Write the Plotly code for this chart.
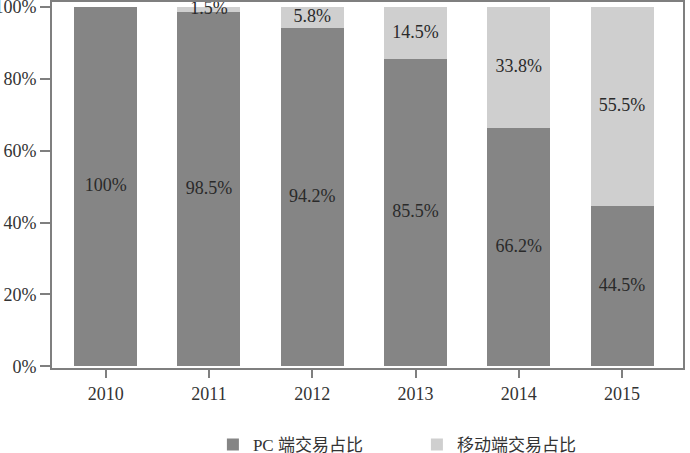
import plotly.graph_objects as go

years = ["2010", "2011", "2012", "2013", "2014", "2015"]
pc_share = [100, 98.5, 94.2, 85.5, 66.2, 44.5]
mobile_share = [0, 1.5, 5.8, 14.5, 33.8, 55.5]
pc_labels = ["100%", "98.5%", "94.2%", "85.5%", "66.2%", "44.5%"]
mobile_labels = ["", "1.5%", "5.8%", "14.5%", "33.8%", "55.5%"]
y_ticks = [0, 20, 40, 60, 80, 100]
y_tick_labels = ["0%", "20%", "40%", "60%", "80%", "100%"]

xs = list(range(len(years)))
serif = "Liberation Serif, Times New Roman, serif"

fig = go.Figure()
fig.add_trace(go.Bar(x=xs, y=pc_share, name="PC 端交易占比", marker_color="#858585",
                     width=0.61, marker_line_width=0))
fig.add_trace(go.Bar(x=xs, y=mobile_share, name="移动端交易占比", marker_color="#cfcfcf",
                     width=0.61, marker_line_width=0))

pc_mid = [v / 2 for v in pc_share]
mob_mid = [p + m / 2 for p, m in zip(pc_share, mobile_share)]
fig.add_trace(go.Scatter(x=xs, y=pc_mid, mode="text", text=pc_labels, showlegend=False,
                         textfont=dict(family=serif, size=18, color="#2a2a2a"), hoverinfo="skip",
                         cliponaxis=False))
fig.add_trace(go.Scatter(x=xs, y=mob_mid, mode="text", text=mobile_labels, showlegend=False,
                         textfont=dict(family=serif, size=18, color="#2a2a2a"), hoverinfo="skip",
                         cliponaxis=False))

fig.update_layout(
    barmode="stack",
    width=690, height=453,
    margin=dict(l=52, r=7, t=2, b=85, autoexpand=False),
    plot_bgcolor="white", paper_bgcolor="white",
    font=dict(family=serif, size=18, color="#333333"),
    legend=dict(orientation="h", x=0.255, xanchor="left", y=-0.21, yanchor="middle",
                font=dict(family="Liberation Serif, Noto Sans CJK SC, serif", size=17,
                          color="#333333"),
                itemwidth=30, traceorder="normal", entrywidth=159),
)
fig.update_xaxes(range=[-0.52, 5.59], tickvals=xs, ticktext=years, showline=True,
                 linecolor="#7f7f7f", linewidth=2, mirror=True, ticks="outside", ticklen=8,
                 tickcolor="#7f7f7f", tickwidth=2, showgrid=False, zeroline=False,
                 automargin=False, ticklabeloverflow="allow",
                 tickfont=dict(family=serif, size=18, color="#333333"))
fig.update_yaxes(range=[-0.5, 101.4], tickvals=y_ticks, ticktext=y_tick_labels, showline=True,
                 linecolor="#7f7f7f", linewidth=2, mirror=True, ticks="outside", ticklen=10,
                 tickcolor="#7f7f7f", tickwidth=2, showgrid=False, zeroline=False,
                 automargin=False, ticklabeloverflow="allow",
                 tickfont=dict(family=serif, size=18, color="#333333"))

fig.write_html("out.html", config={"displayModeBar": False},
               post_script="document.body.style.margin='0';document.body.style.overflow='hidden';")
